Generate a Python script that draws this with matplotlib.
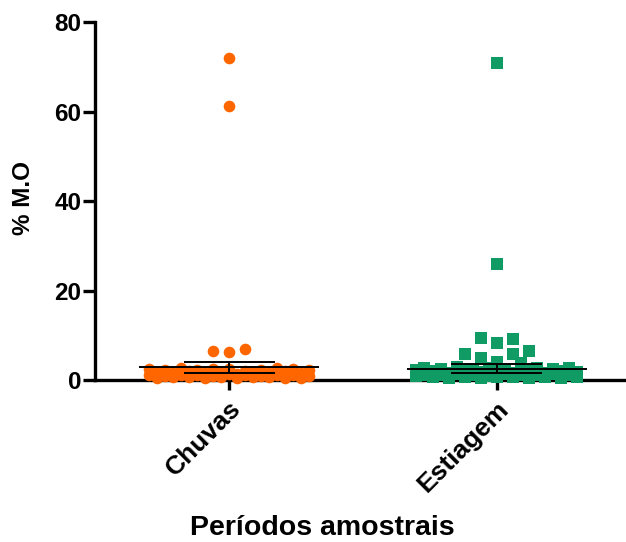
import numpy as np
import matplotlib
matplotlib.use("Agg")
import matplotlib.pyplot as plt

plt.rcParams["font.family"] = ["Liberation Sans", "DejaVu Sans"]
plt.rcParams["font.weight"] = "bold"

# % organic matter per sample, grouped by sampling period
groups = ["Chuvas", "Estiagem"]

chuvas = [72.0, 61.2, 6.5, 6.3, 6.9,
          2.5, 2.3, 2.6, 2.2, 2.4, 2.5, 2.1, 2.3, 2.6, 2.4, 2.2,
          1.8, 1.5, 1.9, 1.6, 1.7, 1.4, 1.8, 1.5, 1.9, 1.6,
          1.1, 0.9, 1.2, 1.0, 0.8, 1.3, 1.1, 0.9, 1.2, 1.0, 0.8,
          0.5, 0.7, 0.6, 0.4, 0.6, 0.5, 0.7, 0.6, 0.4, 0.5]

estiagem = [70.8, 25.9, 9.4, 8.3, 9.2, 5.8, 4.9, 4.0, 5.8, 6.5,
            2.6, 2.4, 2.8, 2.3, 2.7, 2.5, 3.8, 2.2, 2.6, 2.4, 2.7,
            1.9, 1.6, 2.0, 1.7, 1.8, 1.5, 1.9, 1.6, 2.0, 1.7,
            1.2, 1.0, 1.3, 1.1, 0.9, 1.4, 1.2, 1.0, 1.3, 1.1, 0.9,
            0.6, 0.5, 0.7, 0.5, 0.6, 0.6, 0.4, 0.7, 0.5, 0.6]

# centre line and error bar limits for each group
center = [2.8, 2.5]
err_low = [1.6, 1.6]
err_high = [4.1, 3.5]

colors = ["#FF6600", "#0F9B63"]
markers = ["o", "s"]


def row_offsets(values, tol=2.6, caps=(11, 10), step=0.06):
    # stack points of similar value into centred horizontal rows
    order = sorted(range(len(values)), key=lambda i: -values[i])
    rows = []
    for i in order:
        cap = caps[len(rows) % 2] if rows else caps[0]
        if rows and len(rows[-1]) < cap and values[rows[-1][0]] - values[i] <= tol:
            rows[-1].append(i)
        else:
            rows.append([i])
    offs = np.zeros(len(values))
    for r in rows:
        r = sorted(r)
        n = len(r)
        for k, i in enumerate(r):
            offs[i] = (k - (n - 1) / 2) * step
    return offs


fig = plt.figure(figsize=(6.26, 5.42), dpi=100)
ax = fig.add_axes([0.152, 0.299, 0.846, 0.66])

for x, vals, c, m in zip(range(2), [chuvas, estiagem], colors, markers):
    xs = x + row_offsets(vals)
    ax.scatter(xs, vals, s=70, color=c, marker=m, linewidths=0,
               clip_on=False, zorder=3)
    ax.hlines(center[x], x - 0.336, x + 0.336, color="black", lw=1.4, zorder=4)
    ax.hlines([err_low[x], err_high[x]], x - 0.17, x + 0.17,
              color="black", lw=1.4, zorder=4)
    ax.vlines(x, err_low[x], err_high[x], color="black", lw=1.4, zorder=4)

ax.set_xlim(-0.5, 1.478)
ax.set_ylim(0, 80)
ax.set_yticks([0, 20, 40, 60, 80])
ax.set_xticks(range(2))
ax.set_xticklabels(groups, rotation=45, ha="right", rotation_mode="anchor",
                   fontsize=19, fontweight="bold")
ax.tick_params(axis="y", labelsize=17.5, width=2.4, length=9, pad=1)
ax.tick_params(axis="x", width=2.4, length=7, pad=5)
for lab in ax.get_yticklabels():
    lab.set_fontweight("bold")

for side in ["top", "right"]:
    ax.spines[side].set_visible(False)
for side in ["left", "bottom"]:
    ax.spines[side].set_linewidth(2.4)

fig.text(23 / 626, 1 - 198 / 542, "% M.O", rotation=90, ha="center",
         va="center", fontsize=17.5, fontweight="bold")
fig.text(322 / 626, 1 - 535 / 542, "Períodos amostrais", ha="center",
         va="baseline", fontsize=20.5, fontweight="bold")

fig.savefig("out.png", dpi=100)
